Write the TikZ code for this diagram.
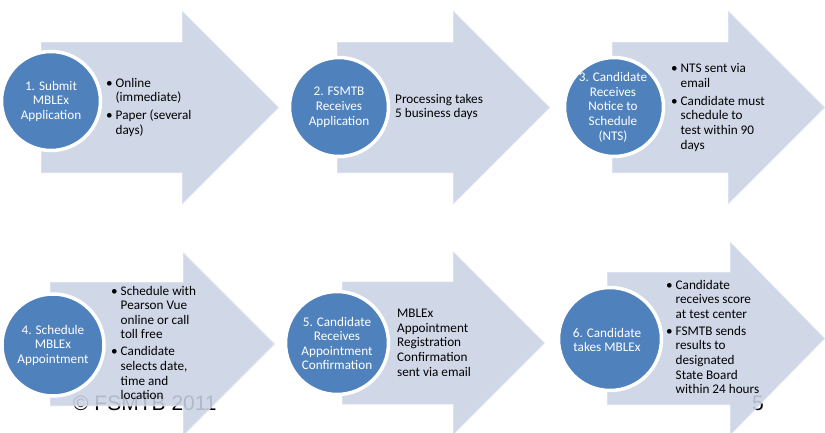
\documentclass[tikz,border=0pt]{standalone}
\usepackage{fontspec}
\setmainfont{Carlito}
\newfontfamily\footfont{Liberation Sans}
\definecolor{arrowfill}{RGB}{202,211,229}
\definecolor{circfill}{RGB}{79,129,189}
\newcommand{\bodyfs}{\fontsize{13.2}{14.6}\selectfont}
\newcommand{\bl}{\makebox[9.5pt][l]{\textbullet}}
% x0, xhead, xtip, ycenter, body half height, head half height
\newcommand{\flowarrow}[6]{%
  \path[arrowshape] ({#1},{#4-#5}) -- ({#2},{#4-#5}) -- ({#2},{#4-#6}) -- ({#3},{#4})
    -- ({#2},{#4+#6}) -- ({#2},{#4+#5}) -- ({#1},{#4+#5}) -- cycle;}
\begin{document}
\begin{tikzpicture}[x=1pt,y=-1pt,
  arrowshape/.style={fill=arrowfill, fill opacity=0.88, draw=white, draw opacity=0.35, line width=1.2pt},
  stagecircle/.style={circle, fill=circfill, draw=white, line width=3.5pt, minimum size=#1, inner sep=0pt},
  stagetext/.style={text=white, font=\bodyfs, inner sep=0pt, align=center},
  bodytext/.style={text=black, font=\bodyfs, inner sep=0pt, anchor=west},
  foot/.style={font=\footfont\fontsize{21}{21}\selectfont, inner sep=0pt, text=black}]
\useasboundingbox (0,0) rectangle (825,432);
\clip (0,0) rectangle (825,432);
\fill[white] (0,0) rectangle (825,432);
% footer behind the arrows
\node[foot, anchor=base west] (copy) at (73,410) {© FSMTB 2011};
\node[foot, anchor=base] (pagenum) at (758,410) {5};
% arrows
\flowarrow{41}{182}{279}{107.5}{65.5}{97}
\flowarrow{337}{453}{550}{107.5}{65.5}{97}
\flowarrow{612}{728}{825}{107.5}{65.5}{97}
\flowarrow{50}{183}{275}{344}{62}{92}
\flowarrow{342}{453}{545}{343}{61.5}{92}
\flowarrow{607}{730}{825}{338.5}{66.5}{97}
% circles
\node[stagecircle=99pt] (c1) at (51,101) {};
\node[stagecircle=99pt] (c2) at (339,107) {};
\node[stagecircle=99pt] (c3) at (614,107) {};
\node[stagecircle=102pt] (c4) at (53,345) {};
\node[stagecircle=103pt] (c5) at (337,343) {};
\node[stagecircle=103pt] (c6) at (610,339) {};
% circle labels
\node[stagetext] (t1) at (51,102) {\begin{tabular}{@{}c@{}}1. Submit\\MBLEx\\Application\end{tabular}};
\node[stagetext] (t2) at (339,107.5) {\begin{tabular}{@{}c@{}}2. FSMTB\\Receives\\Application\end{tabular}};
\node[stagetext] (t3) at (613,108) {\begin{tabular}{@{}c@{}}3. Candidate\\Receives\\Notice to\\Schedule\\(NTS)\end{tabular}};
\node[stagetext] (t4) at (53,346) {\begin{tabular}{@{}c@{}}4. Schedule\\MBLEx\\Appointment\end{tabular}};
\node[stagetext] (t5) at (337,345) {\begin{tabular}{@{}c@{}}5. Candidate\\Receives\\Appointment\\Confirmation\end{tabular}};
\node[stagetext] (t6) at (607,341.5) {\begin{tabular}{@{}c@{}}6. Candidate\\takes MBLEx\end{tabular}};
% body texts
\node[bodytext] (b1) at (106,108) {\begin{tabular}{@{}l@{}l@{}}
\bl & Online\\ & (immediate)\\[3.5pt]
\bl & Paper (several\\ & days)\end{tabular}};
\node[bodytext] (b2) at (395,107.5) {\begin{tabular}{@{}l@{}}Processing takes\\5 business days\end{tabular}};
\node[bodytext] (b3) at (671,108) {\begin{tabular}{@{}l@{}l@{}}
\bl & NTS sent via\\ & email\\[3.5pt]
\bl & Candidate must\\ & schedule to\\ & test within 90\\ & days\end{tabular}};
\node[bodytext] (b4) at (111,344.5) {\begin{tabular}{@{}l@{}l@{}}
\bl & Schedule with\\ & Pearson Vue\\ & online or call\\ & toll free\\[2.5pt]
\bl & Candidate\\ & selects date,\\ & time and\\ & location\end{tabular}};
\node[bodytext] (b5) at (397,344) {\begin{tabular}{@{}l@{}}MBLEx\\Appointment\\Registration\\Confirmation\\sent via email\end{tabular}};
\node[bodytext] (b6) at (666,338.5) {\begin{tabular}{@{}l@{}l@{}}
\bl & Candidate\\ & receives score\\ & at test center\\[2.5pt]
\bl & FSMTB sends\\ & results to\\ & designated\\ & State Board\\ & within 24 hours\end{tabular}};
\end{tikzpicture}
\end{document}
